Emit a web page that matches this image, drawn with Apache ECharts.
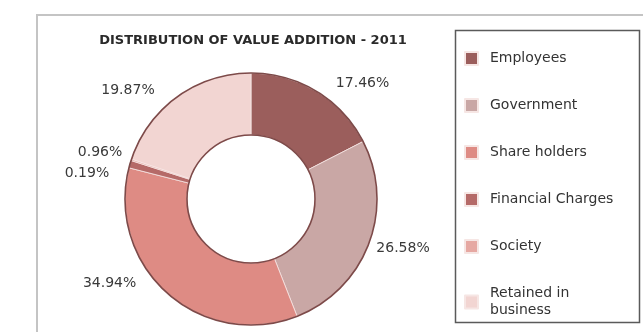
<!DOCTYPE html>
<html>
<head>
<meta charset="utf-8">
<script src="https://cdn.jsdelivr.net/npm/echarts@6/dist/echarts.min.js"></script>
<style>
  html, body { margin: 0; padding: 0; background: #fff; }
  #chart { width: 643px; height: 332px; }
</style>
</head>
<body>
<div id="chart"></div>
<script>
// Share of value addition by recipient, 2011 (percent)
const categories = ['Employees', 'Government', 'Share holders', 'Financial Charges', 'Society', 'Retained in business'];
const shares = [17.46, 26.58, 34.94, 0.96, 0.19, 19.87];
const sliceColors = ['#9b5e5c', '#c9a7a5', '#de8b84', '#b56a68', '#e6a8a2', '#f2d5d2'];
const chartTitle = 'DISTRIBUTION OF VALUE ADDITION - 2011';

// nudges for the outside value labels, in pixels [dx, dy]
const labelNudges = [[0, -1], [-15, 2], [-11, -16], [13, -21], [-4, 16], [-3, 0]];

const FONT = '"DejaVu Sans", Verdana, sans-serif';

const chart = echarts.init(document.getElementById('chart'), null, { renderer: 'canvas' });

const pieData = categories.map((name, i) => ({
  name: name,
  value: shares[i],
  itemStyle: { color: sliceColors[i] }
}));

chart.setOption({
  backgroundColor: '#ffffff',
  animation: false,
  color: sliceColors,
  title: {
    text: chartTitle,
    left: 248,
    top: 29,
    textAlign: 'center',
    textStyle: { fontFamily: FONT, fontSize: 13, fontWeight: 'bold', color: '#2a2a2a' }
  },
  legend: {
    orient: 'vertical',
    left: 459,
    top: 45,
    height: 290,
    itemWidth: 13,
    itemHeight: 13,
    itemGap: 30,
    icon: 'rect',
    data: categories,
    formatter: name => name === 'Retained in business' ? 'Retained in\nbusiness' : name,
    textStyle: { fontFamily: FONT, fontSize: 14, color: '#333', lineHeight: 17, padding: [0, 0, 0, 7] },
    selectedMode: false
  },
  graphic: [
    {
      type: 'rect',
      shape: { x: 37, y: 15, width: 640, height: 340 },
      style: { fill: 'none', stroke: '#c4c4c4', lineWidth: 2 },
      silent: true
    },
    {
      type: 'rect',
      shape: { x: 455.5, y: 30.5, width: 184, height: 292 },
      style: { fill: 'none', stroke: '#5a5a5a', lineWidth: 1.5 },
      silent: true
    }
  ],
  series: [
    {
      type: 'pie',
      center: [251, 199],
      radius: [64, 126],
      startAngle: 90,
      clockwise: true,
      avoidLabelOverlap: true,
      itemStyle: { borderColor: '#f6e6e4', borderWidth: 0.8 },
      label: {
        show: true,
        position: 'outside',
        formatter: p => p.value.toFixed(2) + '%',
        fontFamily: FONT,
        fontSize: 14,
        color: '#3a3a3a'
      },
      labelLine: { show: false, length: 8, length2: 10 },
      labelLayout: p => ({ dx: labelNudges[p.dataIndex][0], dy: labelNudges[p.dataIndex][1] }),
      emphasis: { disabled: true },
      data: pieData
    },
    {
      // dark outline around the ring's outer and inner edges
      type: 'pie',
      center: [251, 199],
      radius: [64, 126],
      silent: true,
      label: { show: false },
      labelLine: { show: false },
      itemStyle: { color: 'rgba(0,0,0,0)', borderColor: '#7d4a49', borderWidth: 1.6 },
      emphasis: { disabled: true },
      tooltip: { show: false },
      legendHoverLink: false,
      data: [{ value: 1, name: '' }]
    }
  ]
});
</script>
</body>
</html>
